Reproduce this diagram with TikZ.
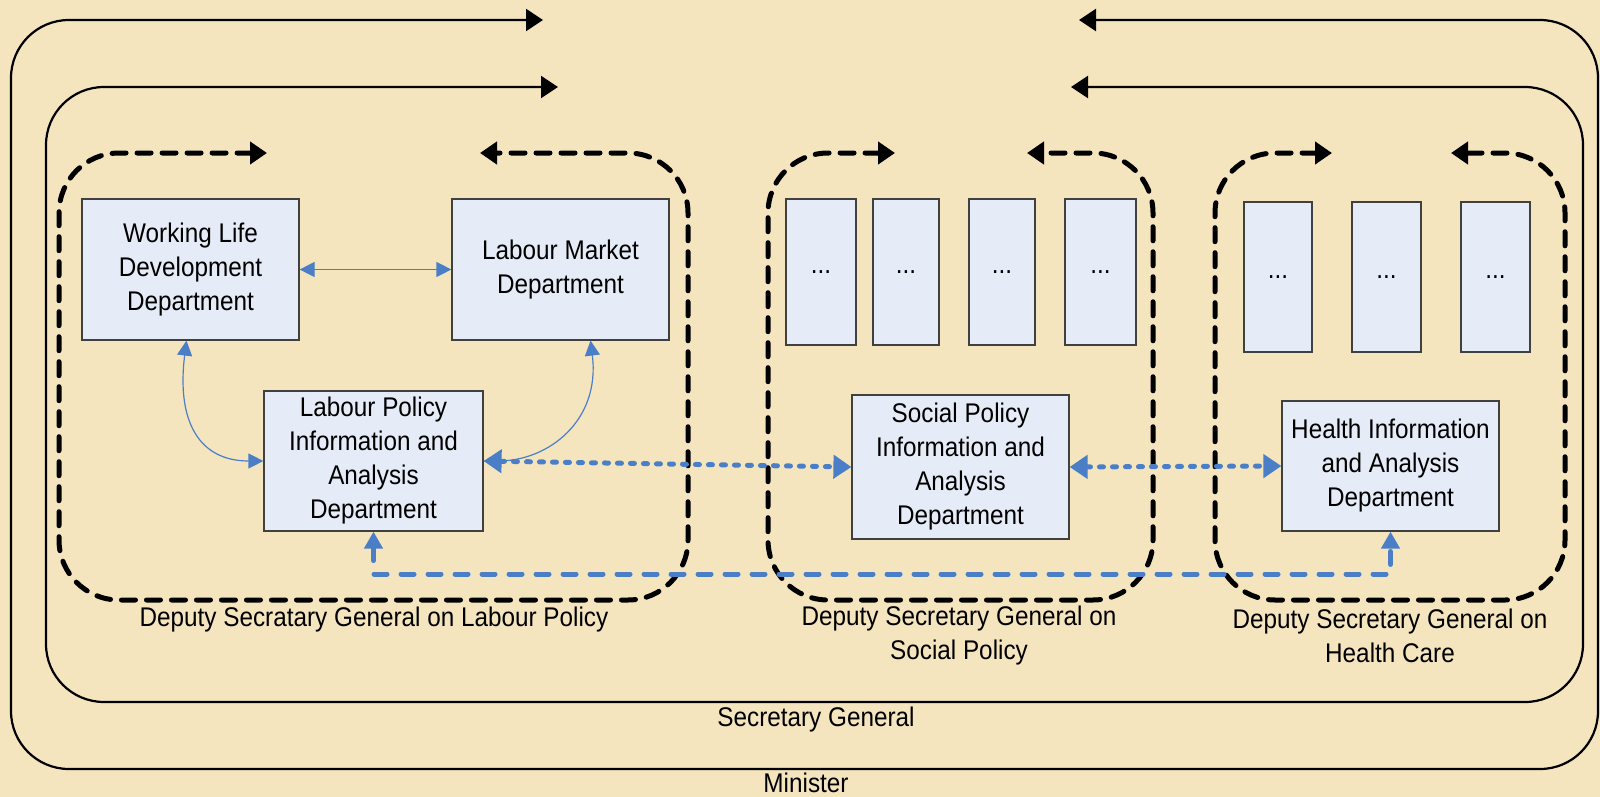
\documentclass[tikz,border=0pt]{standalone}
\usepackage{fontspec}
\setmainfont{Liberation Sans}[FakeStretch=0.9]
\usetikzlibrary{arrows.meta,positioning,calc}
\definecolor{paper}{HTML}{F5E5BF}
\definecolor{deptfill}{HTML}{E6ECF7}
\definecolor{linkblue}{HTML}{4A7EC6}

\begin{document}
\begin{tikzpicture}[x=1pt, y=-1pt,
    every node/.style={font=\fontsize{27}{34}\selectfont},
    dept/.style={draw=black!75, fill=deptfill, line width=1.2pt, align=center, inner sep=0pt},
    frame/.style={line width=2.2pt, rounded corners=58pt, >={Triangle[length=17pt,width=22pt]}, <->},
    region/.style={line width=5pt, line cap=round, dash pattern=on 14pt off 11pt, rounded corners=60pt, >={Triangle[length=17pt,width=22pt]}, <->},
    thinlink/.style={color=linkblue, line width=1.2pt, >={Triangle[length=15pt,width=15pt]}, <->},
    dotlink/.style={color=linkblue, line width=5pt, line cap=round, dash pattern=on 4pt off 9pt, >={Triangle[length=18pt,width=23pt]}, <->},
    buslink/.style={color=linkblue, line width=5pt, line cap=round, dash pattern=on 13pt off 14pt, >={Triangle[length=17pt,width=18pt]}, <->}]

    % Background
    \useasboundingbox (0,0) rectangle (1600,797);
    \fill[paper] (0,0) rectangle (1600,797);

    % Minister and Secretary General
    \draw[frame] (543,20) -- (11,20) -- (11,769) -- (1598,769) -- (1598,20) -- (1079,20);
    \draw[frame] (558,87) -- (46,87) -- (46,702) -- (1583,702) -- (1583,87) -- (1071,87);

    % Deputy Secretaries General
    \draw[region] (267,153) -- (59,153) -- (59,600) -- (688,600) -- (688,153) -- (480,153);
    \draw[region] (895,153) -- (768,153) -- (768,600) -- (1153,600) -- (1153,153) -- (1027,153);
    \draw[region] (1332,153) -- (1215,153) -- (1215,600) -- (1565,600) -- (1565,153) -- (1451,153);

    % Labour Policy departments
    \node[dept, minimum width=217pt, minimum height=141pt] (wld) at (190.5,269.5) {Working Life\\Development\\Department};
    \node[dept, minimum width=217pt, minimum height=141pt] (lmd) at (560.5,269.5) {Labour Market\\Department};
    \node[dept, minimum width=219pt, minimum height=140pt] (lpia) at (373.5,461) {Labour Policy\\Information and\\Analysis\\Department};

    % Social Policy departments
    \node[dept, minimum width=70pt, minimum height=146pt] (soc1) at (821,272) {...};
    \node[dept, minimum width=66pt, minimum height=146pt] (soc2) at (906,272) {...};
    \node[dept, minimum width=66pt, minimum height=146pt] (soc3) at (1002,272) {...};
    \node[dept, minimum width=71pt, minimum height=146pt] (soc4) at (1100.5,272) {...};
    \node[dept, minimum width=217pt, minimum height=144pt] (spia) at (960.5,467) {Social Policy\\Information and\\Analysis\\Department};

    % Health Care departments
    \node[dept, minimum width=68pt, minimum height=150pt] (hc1) at (1278,277) {...};
    \node[dept, minimum width=69pt, minimum height=150pt] (hc2) at (1386.5,277) {...};
    \node[dept, minimum width=69pt, minimum height=150pt] (hc3) at (1495.5,277) {...};
    \node[dept, minimum width=217pt, minimum height=130pt] (hia) at (1390.5,466) {Health Information\\and Analysis\\Department};

    % Links
    \draw[thinlink] (wld.east) -- (lmd.west);
    \draw[thinlink] ([xshift=-4pt]wld.south) .. controls +(-10,80) and +(-65,0) .. (lpia.west);
    \draw[thinlink] ([xshift=30pt]lmd.south) .. controls +(10,80) and +(65,0) .. (lpia.east);
    \draw[dotlink] (lpia.east) -- (spia.west);
    \draw[dotlink] (spia.east) -- (hia.west);
    \coordinate (bus) at (0,574);
    \draw[buslink] (lpia.south) -- (lpia.south |- bus) -| (hia.south);

    % Labels
    \node (dsgl) at (374,620) {Deputy Secratary General on Labour Policy};
    \node[align=center] (dsgs) at (959,636) {Deputy Secretary General on\\Social Policy};
    \node[align=center] (dsgh) at (1390,636) {Deputy Secretary General on\\Health Care};
    \node (sg) at (816,720) {Secretary General};
    \node[inner sep=0pt] (min) at (806,783) {Minister};
\end{tikzpicture}
\end{document}
